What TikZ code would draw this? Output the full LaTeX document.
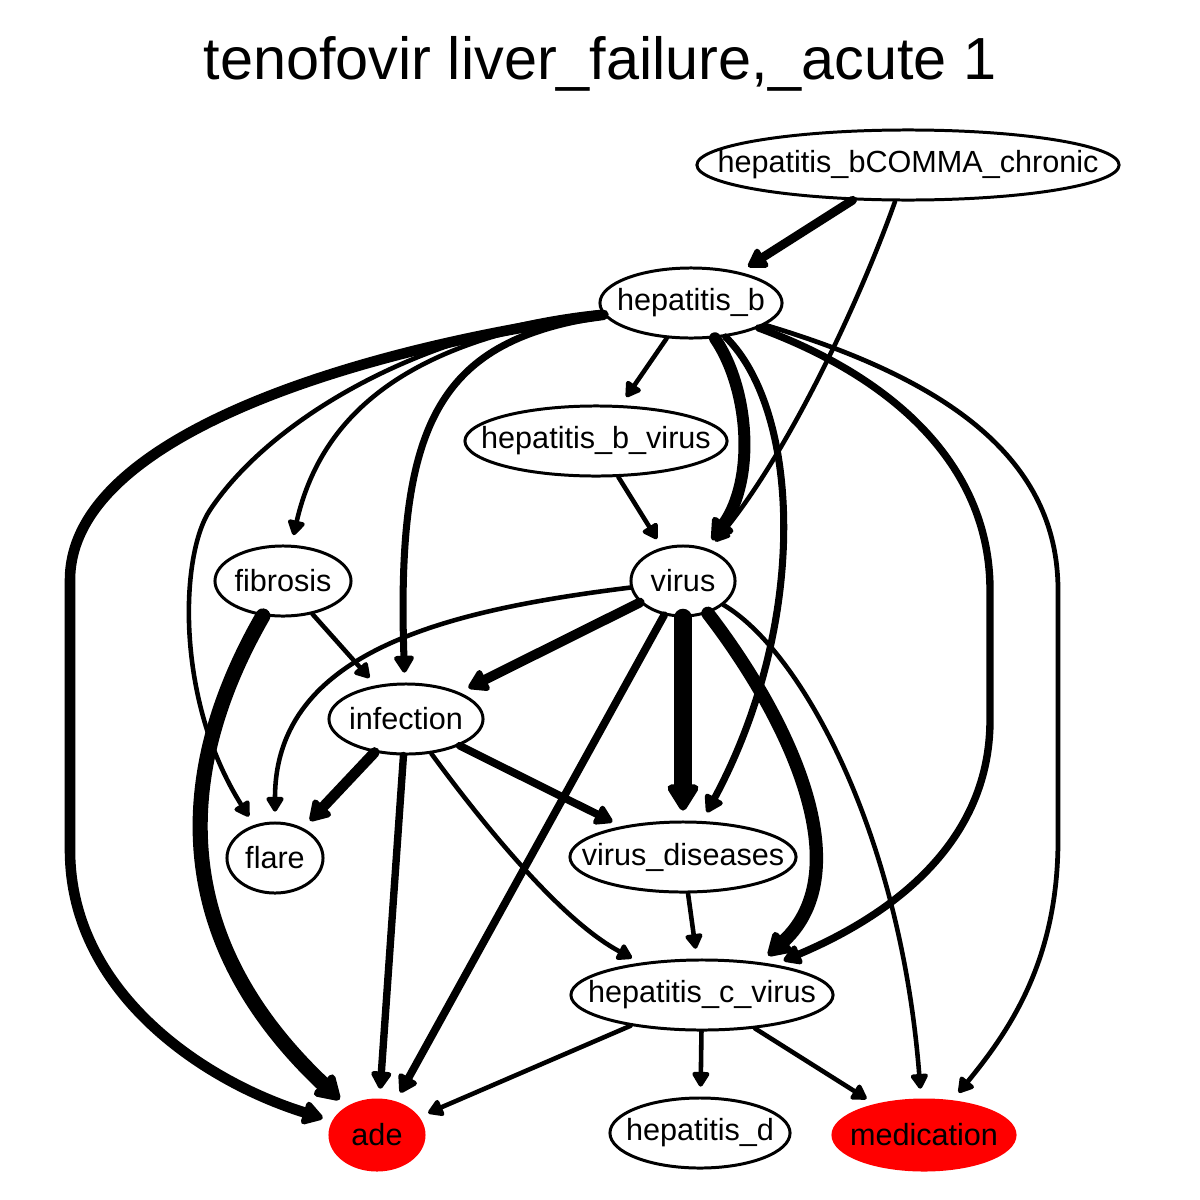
\documentclass[tikz,border=0pt]{standalone}
\usepackage{fontspec}
\setmainfont{Liberation Sans}
\usetikzlibrary{arrows.meta,shapes.geometric}

\begin{document}
\begin{tikzpicture}[
  x=0.01cm, y=-0.01cm,
  term/.style={
    ellipse,
    draw,
    line width=0.85pt,
    inner sep=0pt,
    minimum height=0.7cm,
    font=\fontsize{8.7}{10}\selectfont,
    execute at begin node={\hbox to 0pt\bgroup\hss},
    execute at end node={\hss\egroup}
  },
  outcome/.style={term,draw=red,fill=red},
  arrow/.style={-{Triangle[length=3.5pt 1,width=3.9pt 1.2,round]},line width=#1,line cap=round,shorten >=2.8pt},
  arrow/.default=1.3pt
]
  \useasboundingbox (0,0) rectangle (1200,1200);
  \node[font=\fontsize{16.9}{20}\selectfont] (title) at (600,64) {tenofovir liver\_failure,\_acute 1};

  \node[term,minimum width=4.22cm] (chronic) at (908,165) {hepatitis\_bCOMMA\_chronic};
  \node[term,minimum width=1.82cm] (hepb) at (691,303) {hepatitis\_b};
  \node[term,minimum width=2.62cm] (hbvirus) at (596,441) {hepatitis\_b\_virus};
  \node[term,minimum width=1.36cm] (fibrosis) at (283,581) {fibrosis};
  \node[term,minimum width=1.04cm] (virus) at (683,581) {virus};
  \node[term,minimum width=1.54cm] (infection) at (406,719) {infection};
  \node[term,minimum width=0.96cm] (flare) at (275,858) {flare};
  \node[term,minimum width=2.26cm] (vdiseases) at (683,857) {virus\_diseases};
  \node[term,minimum width=2.62cm] (hcvirus) at (702,995) {hepatitis\_c\_virus};
  \node[outcome,minimum width=0.94cm] (ade) at (377,1135) {ade};
  \node[term,minimum width=1.80cm] (hepd) at (700,1133) {hepatitis\_d};
  \node[outcome,minimum width=1.82cm] (medication) at (924,1135) {medication};

  \draw[arrow=2.5pt] (chronic) -- (hepb);
  \draw[arrow] (chronic) .. controls (860,300) and (790,450) .. (virus);
  \draw[arrow] (hepb) -- (hbvirus);
  \draw[arrow] (hepb) .. controls (400,340) and (320,420) .. (fibrosis);
  \draw[arrow] (hepb) .. controls (420,330) and (270,420) .. (210,510) .. controls (180,555) and (175,700) .. (flare);
  \draw[arrow=3pt] (hepb) .. controls (380,345) and (70,430) .. (70,580) -- (70,850) .. controls (70,990) and (200,1080) .. (ade);
  \draw[arrow=2pt] (hepb) .. controls (440,340) and (396,420) .. (infection);
  \draw[arrow=3.4pt] (hepb) .. controls (750,390) and (755,480) .. (virus);
  \draw[arrow=2pt] (hepb) .. controls (800,410) and (810,620) .. (vdiseases);
  \draw[arrow=2.1pt] (hepb) .. controls (900,380) and (990,470) .. (990,590) -- (990,720) .. controls (990,850) and (880,920) .. (hcvirus);
  \draw[arrow=1.35pt] (hepb) .. controls (950,380) and (1058,460) .. (1058,590) -- (1058,840) .. controls (1058,960) and (1010,1030) .. (medication);
  \draw[arrow] (hbvirus) -- (virus);
  \draw[arrow] (fibrosis) -- (infection);
  \draw[arrow=4.3pt] (fibrosis) .. controls (180,760) and (160,930) .. (ade);
  \draw[arrow] (virus) .. controls (450,610) and (275,650) .. (flare);
  \draw[arrow=2.8pt] (virus) -- (infection);
  \draw[arrow=2.2pt] (virus) -- (ade);
  \draw[arrow=5pt] (virus) -- (vdiseases);
  \draw[arrow=3.8pt] (virus) .. controls (790,720) and (860,870) .. (hcvirus.29);
  \draw[arrow] (virus) .. controls (800,650) and (900,830) .. (medication);
  \draw[arrow=3pt] (infection) -- (flare);
  \draw[arrow=2.1pt] (infection) -- (ade);
  \draw[arrow=2.2pt] (infection) -- (vdiseases);
  \draw[arrow] (infection) .. controls (480,820) and (560,920) .. (hcvirus);
  \draw[arrow] (vdiseases) -- (hcvirus);
  \draw[arrow] (hcvirus) -- (ade);
  \draw[arrow] (hcvirus) -- (hepd);
  \draw[arrow] (hcvirus) -- (medication);
\end{tikzpicture}
\end{document}
